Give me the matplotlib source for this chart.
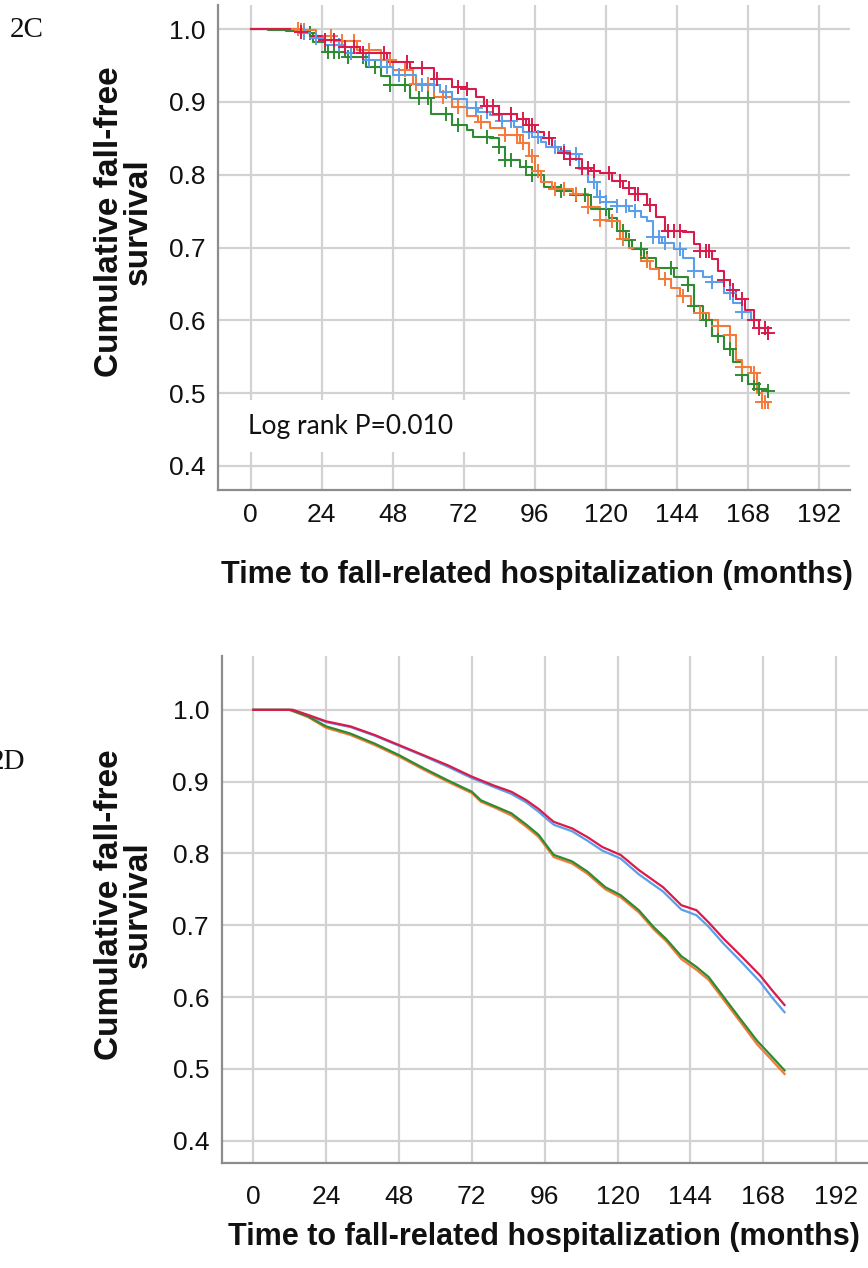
import numpy as np
import matplotlib
matplotlib.use("Agg")
import matplotlib.pyplot as plt
from matplotlib.patches import Rectangle

W, H = 868, 1268

# ---------------- data: panel 2C (Kaplan-Meier with censor marks) ----------------
c_red_t = [0, 12, 16, 20, 24, 31, 37, 46, 54, 62, 68, 73, 76, 79, 84, 90, 93, 96, 99, 102, 105, 108, 112, 115, 118,
           122, 126, 130, 134, 137, 140, 146, 150, 152, 156, 158, 160, 162, 164, 167, 170, 172, 175]
c_red_s = [1.0, 1.0, 0.996, 0.99, 0.985, 0.976, 0.967, 0.955, 0.946, 0.932, 0.921, 0.918, 0.906, 0.894, 0.884, 0.877,
           0.868, 0.858, 0.850, 0.838, 0.830, 0.822, 0.809, 0.805, 0.802, 0.792, 0.782, 0.774, 0.758, 0.742, 0.723,
           0.721, 0.705, 0.695, 0.684, 0.668, 0.656, 0.642, 0.629, 0.614, 0.601, 0.590, 0.582]
c_red_cens = [17, 25, 28, 32, 35, 38, 45, 53, 58, 63, 70, 73, 80, 82, 84, 88, 92, 94, 95, 101, 106, 108, 112, 114, 116,
              121, 125, 128, 130, 131, 135, 141, 143, 145, 152, 154, 155, 160, 163, 166, 170, 172, 174, 175]

c_blue_t = [0, 12, 16, 20, 25, 32, 39, 44, 48, 56, 64, 68, 73, 77, 81, 85, 89, 92, 95, 98, 100, 104, 107, 111, 114,
            117, 120, 124, 128, 132, 134, 136, 139, 143, 146, 150, 153, 156, 160, 163, 166, 169, 172, 175]
c_blue_s = [1.0, 1.0, 0.995, 0.988, 0.978, 0.967, 0.957, 0.948, 0.937, 0.923, 0.914, 0.904, 0.891, 0.886, 0.882,
            0.874, 0.866, 0.858, 0.852, 0.845, 0.838, 0.833, 0.829, 0.808, 0.790, 0.770, 0.763, 0.757, 0.750, 0.742,
            0.737, 0.714, 0.706, 0.698, 0.685, 0.668, 0.660, 0.652, 0.638, 0.624, 0.612, 0.601, 0.590, 0.578]
c_blue_cens = [18, 22, 30, 34, 40, 46, 50, 58, 62, 66, 76, 80, 85, 88, 94, 97, 103, 106, 110, 116, 118, 120, 124, 127,
               130, 136, 138, 140, 145, 150, 156, 162, 166, 170, 174]

c_orange_t = [0, 14, 17, 22, 28, 36, 44, 48, 55, 62, 68, 73, 77, 81, 86, 91, 94, 96, 98, 102, 109, 114, 118, 121, 125,
              128, 132, 135, 138, 142, 145, 149, 152, 155, 158, 162, 164, 166, 169, 171, 173, 175]
c_orange_s = [1.0, 1.0, 0.998, 0.99, 0.983, 0.971, 0.957, 0.944, 0.925, 0.907, 0.893, 0.880, 0.872, 0.864, 0.854,
              0.843, 0.825, 0.805, 0.790, 0.781, 0.774, 0.756, 0.738, 0.737, 0.712, 0.700, 0.682, 0.670, 0.657, 0.645,
              0.633, 0.620, 0.610, 0.600, 0.592, 0.580, 0.546, 0.536, 0.528, 0.500, 0.488, 0.479]
c_orange_cens = [16, 17, 18, 27, 31, 35, 40, 47, 52, 56, 60, 65, 70, 78, 86, 90, 92, 95, 97, 103, 106, 110, 114, 118,
                 122, 126, 134, 140, 146, 152, 158, 162, 166, 170, 173, 174]

c_green_t = [0, 6, 12, 17, 21, 25, 32, 39, 44, 47, 54, 61, 68, 73, 75, 81, 84, 86, 91, 95, 99, 105, 109, 115, 121,
             124, 127, 129, 133, 137, 143, 148, 150, 153, 156, 160, 163, 166, 168, 171, 175]
c_green_s = [1.0, 0.999, 0.997, 0.994, 0.982, 0.969, 0.962, 0.948, 0.935, 0.923, 0.905, 0.884, 0.868, 0.861, 0.852,
             0.850, 0.838, 0.820, 0.811, 0.799, 0.783, 0.777, 0.772, 0.753, 0.741, 0.723, 0.710, 0.698, 0.685, 0.672,
             0.659, 0.649, 0.619, 0.600, 0.578, 0.560, 0.543, 0.525, 0.513, 0.506, 0.503]
c_green_cens = [20, 26, 28, 30, 33, 38, 42, 47, 52, 57, 60, 66, 70, 80, 84, 86, 88, 93, 95, 105, 110, 113, 120, 126,
                128, 132, 134, 142, 148, 150, 154, 158, 162, 166, 170, 172, 175]

# ---------------- data: panel 2D (adjusted curves) ----------------
d_rb_t = [0, 13, 18, 24, 32, 40, 48, 56, 64, 72, 79, 85, 90, 94, 97, 99, 105, 110, 115, 121, 127, 135, 141, 146, 150,
          155, 161, 167, 171, 175]
d_red_s = [1.0, 1.0, 0.993, 0.984, 0.977, 0.965, 0.951, 0.937, 0.923, 0.907, 0.895, 0.886, 0.874, 0.862, 0.851, 0.844,
           0.835, 0.823, 0.809, 0.798, 0.777, 0.753, 0.728, 0.721, 0.704, 0.681, 0.656, 0.630, 0.609, 0.589]
d_blue_s = [1.0, 1.0, 0.992, 0.983, 0.976, 0.964, 0.950, 0.936, 0.921, 0.905, 0.893, 0.883, 0.871, 0.858, 0.847, 0.840,
            0.831, 0.818, 0.804, 0.793, 0.771, 0.747, 0.722, 0.714, 0.698, 0.674, 0.648, 0.621, 0.599, 0.579]
d_go_t = [0, 12, 18, 24, 32, 40, 48, 56, 64, 72, 75, 80, 85, 90, 94, 97, 99, 105, 110, 116, 121, 127, 132, 136, 141,
          146, 150, 155, 160, 166, 170, 175]
d_green_s = [1.0, 1.0, 0.991, 0.977, 0.967, 0.953, 0.937, 0.919, 0.902, 0.886, 0.874, 0.865, 0.856, 0.840, 0.826, 0.809,
             0.798, 0.789, 0.775, 0.753, 0.742, 0.721, 0.697, 0.681, 0.657, 0.642, 0.628, 0.600, 0.572, 0.539, 0.521,
             0.498]
d_orange_s = [1.0, 1.0, 0.990, 0.975, 0.965, 0.951, 0.935, 0.917, 0.900, 0.884, 0.872, 0.863, 0.853, 0.837, 0.823,
              0.806, 0.795, 0.786, 0.772, 0.750, 0.739, 0.718, 0.694, 0.678, 0.653, 0.638, 0.624, 0.596, 0.568, 0.534,
              0.516, 0.493]

x_ticks = [0, 24, 48, 72, 96, 120, 144, 168, 192]
y_ticks = [0.4, 0.5, 0.6, 0.7, 0.8, 0.9, 1.0]
y_ticklabels = ["0.4", "0.5", "0.6", "0.7", "0.8", "0.9", "1.0"]

RED = "#d81b4b"
BLUE = "#5b9ee9"
ORANGE = "#f47a3a"
GREEN = "#2e8b32"
GRID = "#d2d2d2"
SPINE = "#8c8c8c"

plt.rcParams["font.family"] = ["Liberation Sans", "DejaVu Sans"]

fig = plt.figure(figsize=(W / 100, H / 100), dpi=100)


def fx(px):
    return px / W


def fy(py):
    return 1 - py / H


def style_axes(ax, xpad):
    ax.set_xticks(x_ticks)
    ax.set_yticks(y_ticks)
    ax.set_yticklabels(y_ticklabels)
    ax.grid(True, color=GRID, linewidth=1.6, zorder=0)
    ax.set_axisbelow(True)
    for s in ["top", "right"]:
        ax.spines[s].set_visible(False)
    for s in ["left", "bottom"]:
        ax.spines[s].set_color(SPINE)
        ax.spines[s].set_linewidth(1.6)
    ax.tick_params(length=0, labelsize=19, colors="#111111")
    ax.tick_params(axis="x", pad=xpad)
    ax.tick_params(axis="y", pad=9)


# ---------------- top panel ----------------
ax1 = fig.add_axes([fx(218), fy(490), (850 - 218) / W, (490 - 5) / H])
ax1.set_xlim(-11.05, 202.6)
ax1.set_ylim(0.367, 1.033)
style_axes(ax1, 9)

series_c = [
    (c_green_t, c_green_s, c_green_cens, GREEN),
    (c_orange_t, c_orange_s, c_orange_cens, ORANGE),
    (c_blue_t, c_blue_s, c_blue_cens, BLUE),
    (c_red_t, c_red_s, c_red_cens, RED),
]
for t, s, cens, col in series_c:
    ax1.step(t, s, where="post", color=col, linewidth=1.5, zorder=3)
    t_arr = np.asarray(t)
    s_arr = np.asarray(s)
    idx = np.searchsorted(t_arr, np.asarray(cens), side="right") - 1
    ax1.plot(cens, s_arr[idx], linestyle="none", marker="+", markersize=10, markeredgewidth=1.4,
             color=col, zorder=4)

# white box behind the log-rank annotation
ax1.add_patch(Rectangle((-8.5, 0.419), 83, 0.072, facecolor="white", edgecolor="none", zorder=2))
ax1.text(33.6, 0.4547, "Log rank P=0.010", fontsize=19, family=["Lato", "DejaVu Sans"],
         ha="center", va="center", zorder=5, color="#111111")

# ---------------- bottom panel ----------------
ax2 = fig.add_axes([fx(221.5), fy(1163), (868 - 221.5) / W, (1163 - 656) / H])
ax2.set_xlim(-10.47, 202.5)
ax2.set_ylim(0.369, 1.075)
style_axes(ax2, 16)

ax2.plot(d_go_t, d_orange_s, color=ORANGE, linewidth=1.6, zorder=3)
ax2.plot(d_go_t, d_green_s, color=GREEN, linewidth=1.6, zorder=4)
ax2.plot(d_rb_t, d_blue_s, color=BLUE, linewidth=1.6, zorder=3)
ax2.plot(d_rb_t, d_red_s, color=RED, linewidth=1.6, zorder=4)

# ---------------- labels ----------------
ylab = "Cumulative fall-free\nsurvival"
fig.text(fx(124), fy(222), ylab, rotation=90, ha="center", va="center", fontsize=24,
         fontweight="bold", linespacing=0.9, color="#111111")
fig.text(fx(124), fy(905), ylab, rotation=90, ha="center", va="center", fontsize=24,
         fontweight="bold", linespacing=0.9, color="#111111")

xlab = "Time to fall-related hospitalization (months)"
fig.text(fx(537), fy(575), xlab, ha="center", va="center", fontsize=22, fontweight="bold", color="#111111")
fig.text(fx(544), fy(1237), xlab, ha="center", va="center", fontsize=22, fontweight="bold", color="#111111")

fig.text(fx(10), fy(30), "2C", ha="left", va="center", fontsize=21, family=["Liberation Serif"], color="#111111")
fig.text(fx(25), fy(762), "2D", ha="right", va="center", fontsize=21, family=["Liberation Serif"], color="#111111")

fig.savefig("out.png", dpi=100, facecolor="white")
